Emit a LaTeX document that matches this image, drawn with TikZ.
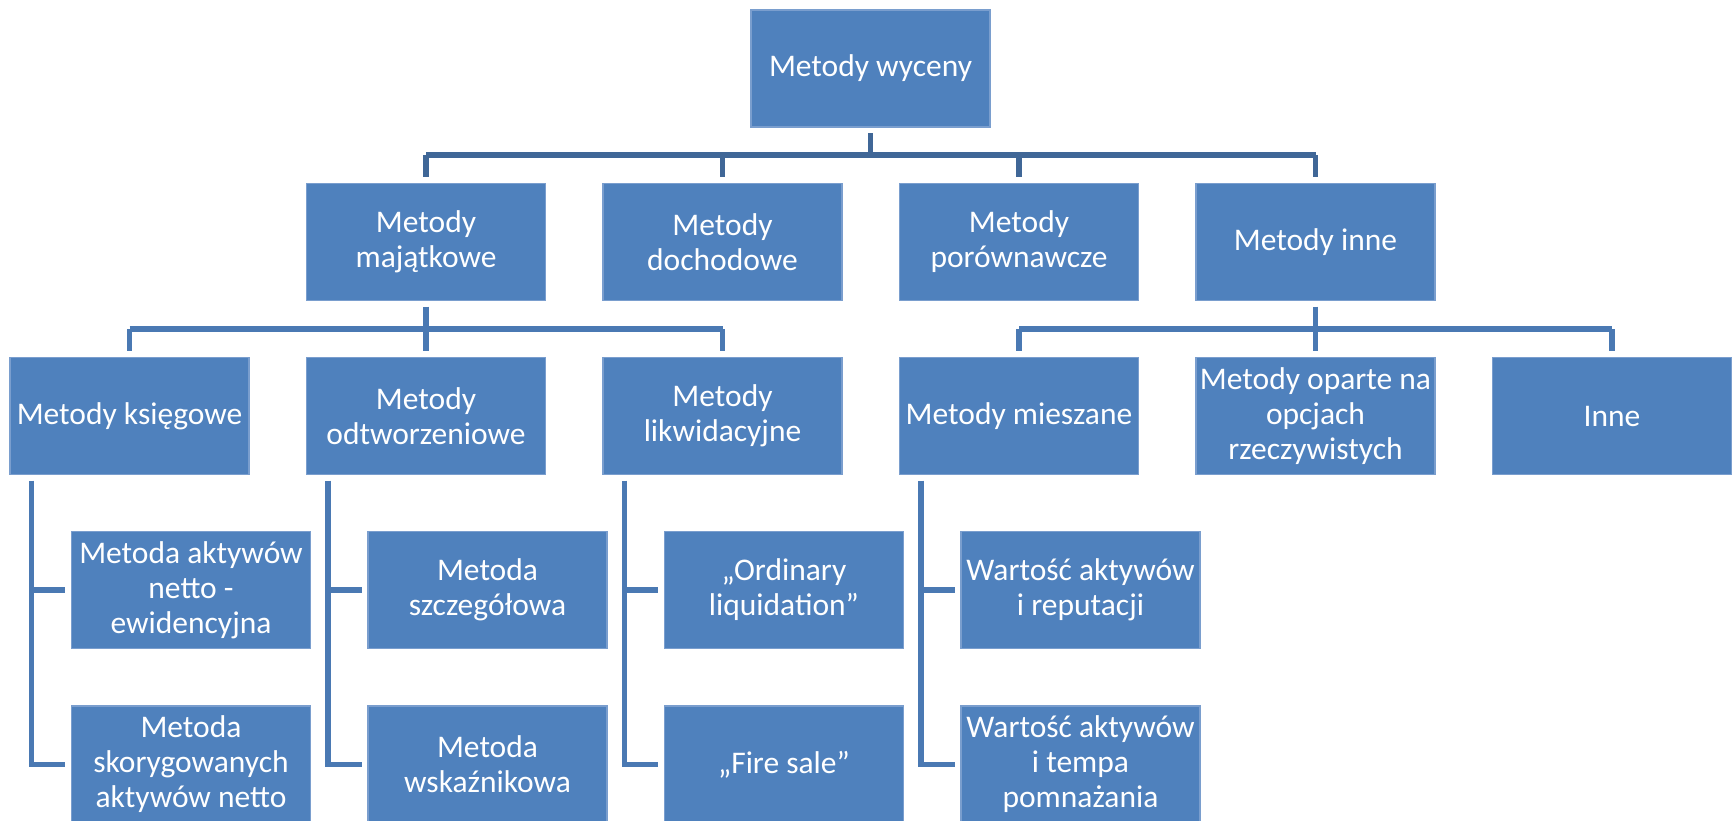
\documentclass[tikz,border=0pt]{standalone}
\usepackage{fontspec}
\setmainfont{Carlito}
\definecolor{boxfill}{RGB}{79,129,189}
\definecolor{boxedge}{RGB}{122,158,206}
\definecolor{linetop}{RGB}{64,103,151}
\definecolor{linelow}{RGB}{74,121,179}
\begin{document}
\begin{tikzpicture}[x=1pt,y=1pt,
  box/.style={rectangle, fill=boxfill, draw=boxedge, line width=1.2pt,
    minimum width=239pt, minimum height=117pt, inner sep=0pt,
    align=center, text=white, font=\fontsize{31.5}{35}\selectfont},
  conntop/.style={draw=linetop, line width=5.6pt},
  connlow/.style={draw=linelow, line width=5.6pt}]
\useasboundingbox (0,0) rectangle (1735,-821);
% root
\node[box] (root) at (870.5,-68.5) {Metody wyceny};
% level 2
\node[box] (maj) at (426,-242) {Metody\\majątkowe};
\node[box] (doch) at (722.5,-242) {Metody\\dochodowe};
\node[box] (por) at (1019,-242) {Metody\\porównawcze};
\node[box] (inn) at (1315.5,-242) {Metody inne};
% level 3
\node[box] (ksi) at (129.5,-416) {Metody księgowe};
\node[box] (odt) at (426,-416) {Metody\\odtworzeniowe};
\node[box] (lik) at (722.5,-416) {Metody\\likwidacyjne};
\node[box] (mie) at (1019,-416) {Metody mieszane};
\node[box] (opc) at (1315.5,-416) {Metody oparte na\\opcjach\\rzeczywistych};
\node[box] (inne) at (1612,-416) {Inne};
% level 4
\node[box] (ksiA) at (191,-590) {Metoda aktywów\\netto -\\ewidencyjna};
\node[box] (ksiB) at (191,-764.5) {Metoda\\skorygowanych\\aktywów netto};
\node[box] (odtA) at (487.5,-590) {Metoda\\szczegółowa};
\node[box] (odtB) at (487.5,-764.5) {Metoda\\wskaźnikowa};
\node[box] (likA) at (784,-590) {„Ordinary\\liquidation”};
\node[box] (likB) at (784,-764.5) {„Fire sale”};
\node[box] (mieA) at (1080.5,-590) {Wartość aktywów\\i reputacji};
\node[box] (mieB) at (1080.5,-764.5) {Wartość aktywów\\i tempa\\pomnażania};
% level 1 bus
\coordinate (bus1) at (870.5,-155);
\draw[conntop] ([yshift=-5.5pt]root.south) -- (root.south |- bus1);
\draw[conntop] (maj.north |- bus1) -- (inn.north |- bus1);
\foreach \n in {maj,doch,por,inn}
  \draw[conntop] (\n.north |- bus1) -- ([yshift=5.5pt]\n.north);
% level 2 buses
\coordinate (bus2) at (0,-329);
\draw[connlow] ([yshift=-5.5pt]maj.south) -- (maj.south |- bus2);
\draw[connlow] (ksi.north |- bus2) -- (lik.north |- bus2);
\foreach \n in {ksi,odt,lik}
  \draw[connlow] (\n.north |- bus2) -- ([yshift=5.5pt]\n.north);
\draw[connlow] ([yshift=-5.5pt]inn.south) -- (inn.south |- bus2);
\draw[connlow] (mie.north |- bus2) -- (inne.north |- bus2);
\foreach \n in {mie,opc,inne}
  \draw[connlow] (\n.north |- bus2) -- ([yshift=5.5pt]\n.north);
% level 3 side connectors
\foreach \p in {ksi,odt,lik,mie}{
  \draw[connlow, line join=miter] ([xshift=22pt,yshift=-5.5pt]\p.south west) |- ([xshift=-5.5pt]\p B.west);
  \draw[connlow] ([xshift=22pt]\p.south west |- \p A.west) -- ([xshift=-5.5pt]\p A.west);
}
\end{tikzpicture}
\end{document}
